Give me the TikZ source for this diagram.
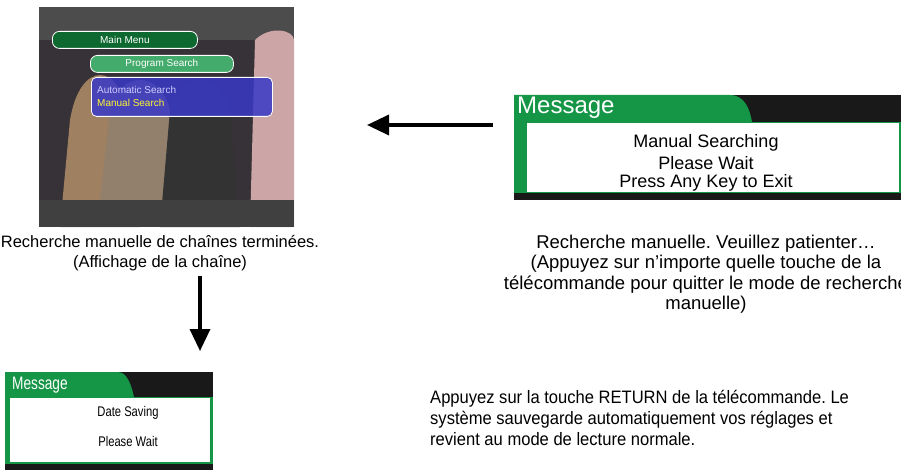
\documentclass[tikz,border=0pt]{standalone}
\usepackage{fontspec}
\setmainfont{Liberation Sans}
\usetikzlibrary{arrows.meta}
\definecolor{msggreen}{RGB}{20,150,70}
\definecolor{photo}{RGB}{55,50,55}
\tikzset{
  captext/.style={font=\fontsize{16.5}{20.5}\selectfont, align=center, inner sep=0},
  msgtxt/.style={font=\fontsize{18}{20}\selectfont, inner sep=0},
  bigarrow/.style={line width=3.5pt, -{Triangle[length=22pt,width=20pt]}},
  menupill/.style={draw=white, line width=0.8pt, rounded corners=7pt, fill=msggreen!70!black, text=white, font=\fontsize{10}{11}\selectfont, inner sep=0}
}
\begin{document}
\frenchspacing
\begin{tikzpicture}[x=1pt,y={(0,-1pt)}]
\useasboundingbox (0,0) rectangle (901,473);
\begin{scope}
\clip (0,0) rectangle (901,473);
% photo
\node[fill=photo, minimum width=255pt, minimum height=220pt, inner sep=0, anchor=north west] (photo) at (39,7) {};
\begin{scope}
\clip (39,7) rectangle (294,227);
\fill[gray!60!black] (39,7) rectangle (294,40);
\fill[brown!50!gray] (70,120) .. controls (80,60) and (120,60) .. (130,120) -- (140,227) -- (60,227) -- cycle;
\fill[gray!70!brown] (110,110) .. controls (120,70) and (160,70) .. (170,110) -- (180,200) -- (100,200) -- cycle;
\fill[black!80] (170,110) .. controls (180,70) and (220,70) .. (230,110) -- (240,227) -- (160,227) -- cycle;
\fill[pink!60!gray] (255,40) .. controls (270,25) and (294,30) .. (294,40) -- (294,227) -- (250,227) -- cycle;
\fill[black!75] (39,200) rectangle (294,227);
\end{scope}
\node[menupill, minimum width=145pt, minimum height=17pt, anchor=north west] (mm) at (52,31) {Main Menu};
\node[menupill, minimum width=143pt, minimum height=17pt, fill=msggreen!80, anchor=north west] (ps) at (90,55) {Program Search};
\node[draw=white, line width=0.8pt, rounded corners=5pt, fill=blue!55!gray, fill opacity=0.85, minimum width=181pt, minimum height=39pt, anchor=north west, inner sep=0] (sm) at (91,77) {};
\node[anchor=west, text=white!80!blue, font=\fontsize{10}{11}\selectfont, inner sep=0] (as) at (97,90) {Automatic Search};
\node[anchor=west, text=yellow!80, font=\fontsize{10}{11}\selectfont, inner sep=0] (ms) at (97,103) {Manual Search};
\node[captext] (cap1) at (160,253) {Recherche manuelle de chaînes terminées.\\(Affichage de la chaîne)};
% message box 1
\fill[black!90] (514,95) rectangle (905,200);
\fill[msggreen] (514,95) -- (730,95) .. controls (745,95) and (750,110) .. (752,122) -- (514,122) -- cycle;
\fill[msggreen] (514,122) rectangle (905,193);
\node[fill=white, minimum width=372pt, minimum height=69pt, anchor=north west, inner sep=0] (msg1) at (527,123) {};
\node[anchor=west, text=white, font=\fontsize{24}{26}\selectfont, inner sep=0] (t1) at (517,108) {Message};
\node[msgtxt] (l1) at (706,143) {Manual Searching};
\node[msgtxt] (l2) at (706,163) {Please Wait};
\node[msgtxt] (l3) at (706,183) {Press Any Key to Exit};
\node[captext, font=\fontsize{18.5}{20.5}\selectfont] (cap2) at (706,274) {Recherche manuelle. Veuillez patienter…\\(Appuyez sur n’importe quelle touche de la\\télécommande pour quitter le mode de recherche\\manuelle)};
% message box 2
\fill[black!90] (5,372) rectangle (213,470);
\fill[msggreen] (5,372) -- (118,372) .. controls (128,372) and (132,388) .. (134,397) -- (5,397) -- cycle;
\fill[msggreen] (5,397) rectangle (213,464);
\node[fill=white, minimum width=200pt, minimum height=64pt, anchor=north west, inner sep=0] (msg2) at (10,398) {};
\node[anchor=west, text=white, font=\fontsize{18}{20}\selectfont\addfontfeature{FakeStretch=0.76}, inner sep=0] (t2) at (12,385) {Message};
\node[msgtxt, font=\fontsize{14}{16}\selectfont\addfontfeature{FakeStretch=0.8}] (d1) at (128,413) {Date Saving};
\node[msgtxt, font=\fontsize{14}{16}\selectfont\addfontfeature{FakeStretch=0.8}] (d2) at (128,441) {Please Wait};
\node[anchor=north west, align=left, font=\fontsize{18}{21}\selectfont\addfontfeature{FakeStretch=0.92}, inner sep=0] (ret) at (430,390) {Appuyez sur la touche RETURN de la télécommande. Le\\système sauvegarde automatiquement vos réglages et\\revient au mode de lecture normale.};
\end{scope}
% arrows
\coordinate (a1s) at (493,125);
\coordinate (a1e) at (367,125);
\draw[bigarrow] (a1s) -- (a1e);
\coordinate (a2s) at (200,276);
\coordinate (a2e) at (200,351);
\draw[bigarrow] (a2s) -- (a2e);
\end{tikzpicture}
\end{document}
